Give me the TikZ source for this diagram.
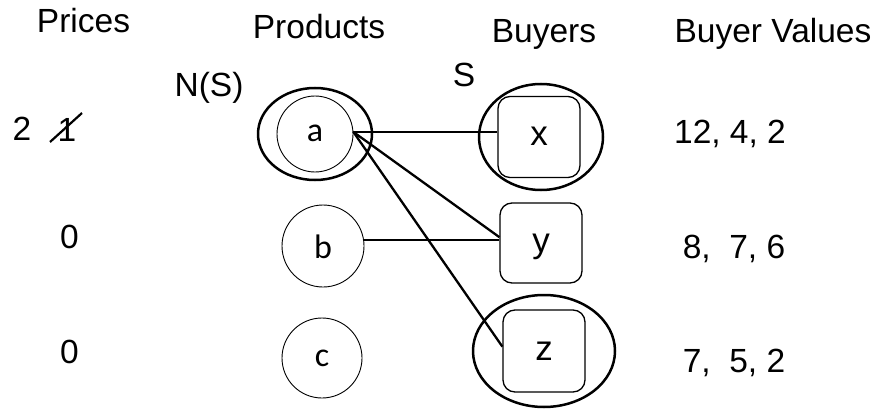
\documentclass[tikz,border=0pt]{standalone}
\usepackage{fontspec}
\setmainfont{Liberation Sans}
\newfontfamily\lettfont{Carlito}
\begin{document}
\begin{tikzpicture}[x=1pt,y=-1pt,
  lbl/.style={anchor=base, inner sep=0pt, font=\fontsize{33.5}{40}\selectfont},
  prod/.style={circle, draw, line width=0.9pt, minimum size=#1, inner sep=0pt,
    text height=16pt, text depth=0pt,
    font=\lettfont\fontsize{34}{40}\selectfont},
  buyer/.style={rectangle, rounded corners=12pt, draw, line width=1.3pt,
    minimum width=82pt, minimum height=81pt, inner sep=0pt,
    text height=18pt, text depth=0pt,
    font=\fontsize{35}{40}\selectfont},
  grp/.style={line width=2.5pt},
  link/.style={line width=2.3pt}]
\path[use as bounding box] (0,0) rectangle (875,409);

% column headings
\node[lbl] (hprice) at (83.5,33) {Prices};
\node[lbl] (hprod)  at (319,39) {Products};
\node[lbl] (hbuy)   at (544,43) {Buyers};
\node[lbl] (hval)   at (773,43) {Buyer Values};
\node[lbl] (ns)     at (209,97) {N(S)};
\node[lbl] (sset)   at (464,87) {S};

% prices
\node[lbl] (p1)  at (22,140) {2};
\node[lbl] (old) at (67,142) {1};
\coordinate (strikeA) at (50,142);
\coordinate (strikeB) at (82,113);
\draw[line width=2.2pt] (strikeA) -- (strikeB);
\node[lbl] (p2) at (69.5,248) {0};
\node[lbl] (p3) at (69.5,363) {0};

% buyer values
\node[lbl] (v1) at (730,143) {12, 4, 2};
\node[lbl] (v2) at (734,258) {8,\ \ 7, 6};
\node[lbl] (v3) at (734,372) {7,\ \ 5, 2};

% products
\node[prod=76pt] (a) at (315,134) {a};
\node[prod=82pt, text height=24pt] (b) at (323,246) {b};
\node[prod=80pt] (c) at (322,358) {c};

% buyers
\node[buyer] (x) at (539,137) {x};
\node[buyer, minimum height=80pt] (y) at (541,243) {y};
\node[buyer, minimum height=82pt] (z) at (544,351) {z};

% the set S and its neighbourhood N(S)
\draw[grp] (a) ellipse [x radius=57, y radius=46];
\draw[grp] ([xshift=2pt]x.center) ellipse [x radius=62, y radius=53];
\draw[grp] (z) ellipse [x radius=71, y radius=56];

% edges of the preferred-seller graph
\draw[link] (a.3) -- (a.3 -| x.west);
\draw[link] (a.3) -- (y.172);
\draw[link] (a.3) -- (z.174);
\draw[link] (b.8) -- (b.8 -| y.west);
\end{tikzpicture}
\end{document}
